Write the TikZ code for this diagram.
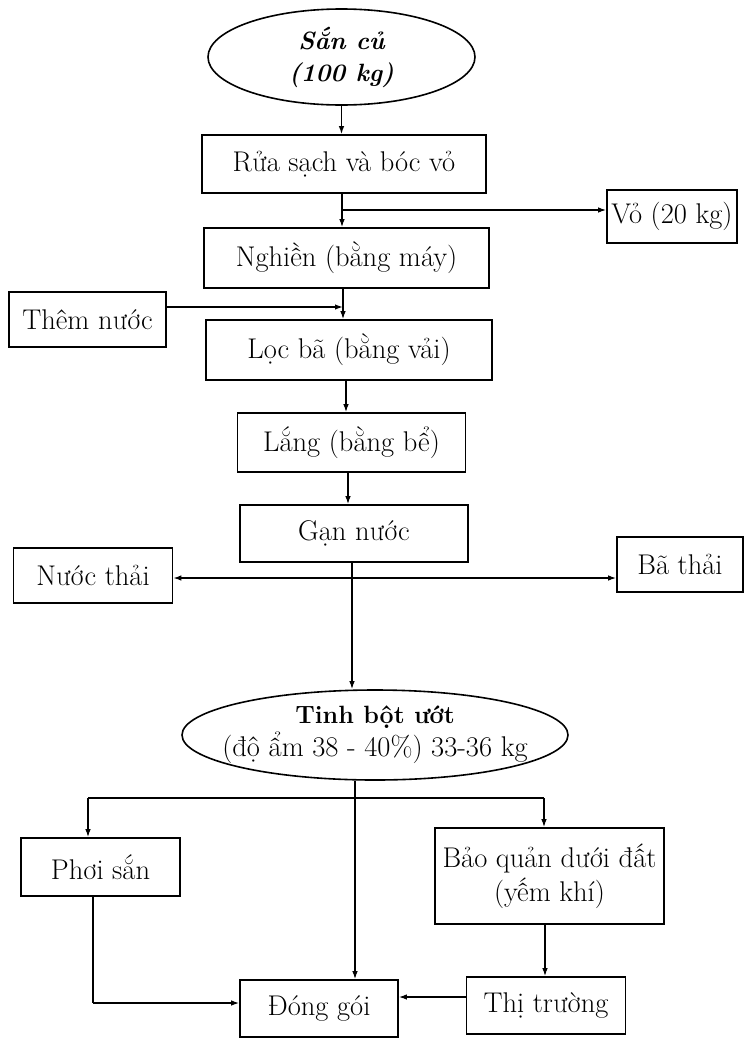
\documentclass[tikz,border=0pt]{standalone}
\usepackage{fontspec}
\usetikzlibrary{arrows.meta,shapes.geometric}
\newcommand\lbl{\fontsize{28.5}{34}\selectfont}
\newcommand\hdr{\fontsize{25}{32}\selectfont\bfseries}
\tikzset{
  box/.style={draw, rectangle, line width=1.6pt, inner sep=0pt, align=center, font=\lbl},
  oval/.style={draw, ellipse, line width=1.6pt, inner xsep=-20pt, inner ysep=-10pt, align=center, font=\lbl},
  link/.style={line width=1.4pt},
  arr/.style={line width=1.4pt, -{Latex[length=8pt,width=5.5pt]}},
}
\begin{document}
\begin{tikzpicture}[x=1pt,y=-1pt]
\useasboundingbox (0,0) rectangle (745,1039);
\fill[white] (0,0) rectangle (745,1039);

% process steps
\node[oval, minimum width=267pt, minimum height=96pt, font=\hdr\itshape] (sancu) at (341.5,57)
  {Sắn củ\\(100 kg)};
\node[box, minimum width=284pt, minimum height=58pt] (rua) at (344,164) {Rửa sạch và bóc vỏ};
\node[box, minimum width=130pt, minimum height=53pt] (vo) at (672,216.5) {Vỏ (20 kg)};
\node[box, minimum width=285pt, minimum height=60pt] (nghien) at (346.5,258) {Nghiền (bằng máy)};
\node[box, minimum width=157pt, minimum height=55pt] (them) at (87.5,319.5) {Thêm nước};
\node[box, minimum width=286pt, minimum height=60pt] (loc) at (349,350) {Lọc bã (bằng vải)};
\node[box, minimum width=228pt, minimum height=59pt] (lang) at (351.5,442.5) {Lắng (bằng bể)};
\node[box, minimum width=228pt, minimum height=57pt] (gan) at (354,533.5) {Gạn nước};
\node[box, minimum width=159pt, minimum height=55pt] (nuoc) at (93,575.5) {Nước thải};
\node[box, minimum width=126pt, minimum height=55pt] (ba) at (680,564.5) {Bã thải};
\node[oval, minimum width=386pt, minimum height=90pt] (tinh) at (375,735)
  {{\hdr Tinh bột ướt}\\[-1pt](độ ẩm 38 - 40\%) 33-36 kg};
\node[box, minimum width=159pt, minimum height=58pt] (phoi) at (100.5,867) {Phơi sắn};
\node[box, minimum width=229pt, minimum height=96pt] (bq) at (549.5,876) {Bảo quản dưới đất\\(yếm khí)};
\node[box, minimum width=158pt, minimum height=57pt] (dong) at (319,1008.5) {Đóng gói};
\node[box, minimum width=159pt, minimum height=57pt] (thi) at (546,1005.5) {Thị trường};

% junction points
\coordinate (j1) at (342,210);
\coordinate (j2) at (343,307);
\coordinate (j3) at (352,578);
\coordinate (j4) at (355,798);
\coordinate (jl) at (88,798);
\coordinate (jr) at (544,798);
\coordinate (j5) at (93,1003);

% connectors
\draw[arr] (sancu.south) -- (sancu.south |- rua.north);
\draw[link] (j1 |- rua.south) -- (j1);
\draw[arr] (j1) -- (j1 |- nghien.north);
\draw[arr] (j1) -- (j1 -| vo.west);
\draw[arr] (j2 |- nghien.south) -- (j2 |- loc.north);
\draw[arr] (them.east |- j2) -- (j2);
\draw[arr] (346,0 |- loc.south) -- (346,0 |- lang.north);
\draw[arr] (348,0 |- lang.south) -- (348,0 |- gan.north);
\draw[link] (j3 |- gan.south) -- (j3);
\draw[arr] (j3) -- (j3 -| nuoc.east);
\draw[arr] (j3) -- (j3 -| ba.west);
\draw[arr] (j3) -- (j3 |- tinh.north);
\draw[link] (j4 |- tinh.south) -- (j4);
\draw[arr] (j4) -- (j4 |- dong.north);
\draw[link] (jl) -- (jr);
\draw[arr] (jl) -- (jl |- phoi.north);
\draw[arr] (jr) -- (jr |- bq.north);
\draw[link] (j5 |- phoi.south) -- (j5);
\draw[arr] (j5) -- (j5 -| dong.west);
\draw[arr] (545,0 |- bq.south) -- (545,0 |- thi.north);
\draw[arr] (thi.west |- 0,997) -- (dong.east |- 0,997);
\end{tikzpicture}
\end{document}
